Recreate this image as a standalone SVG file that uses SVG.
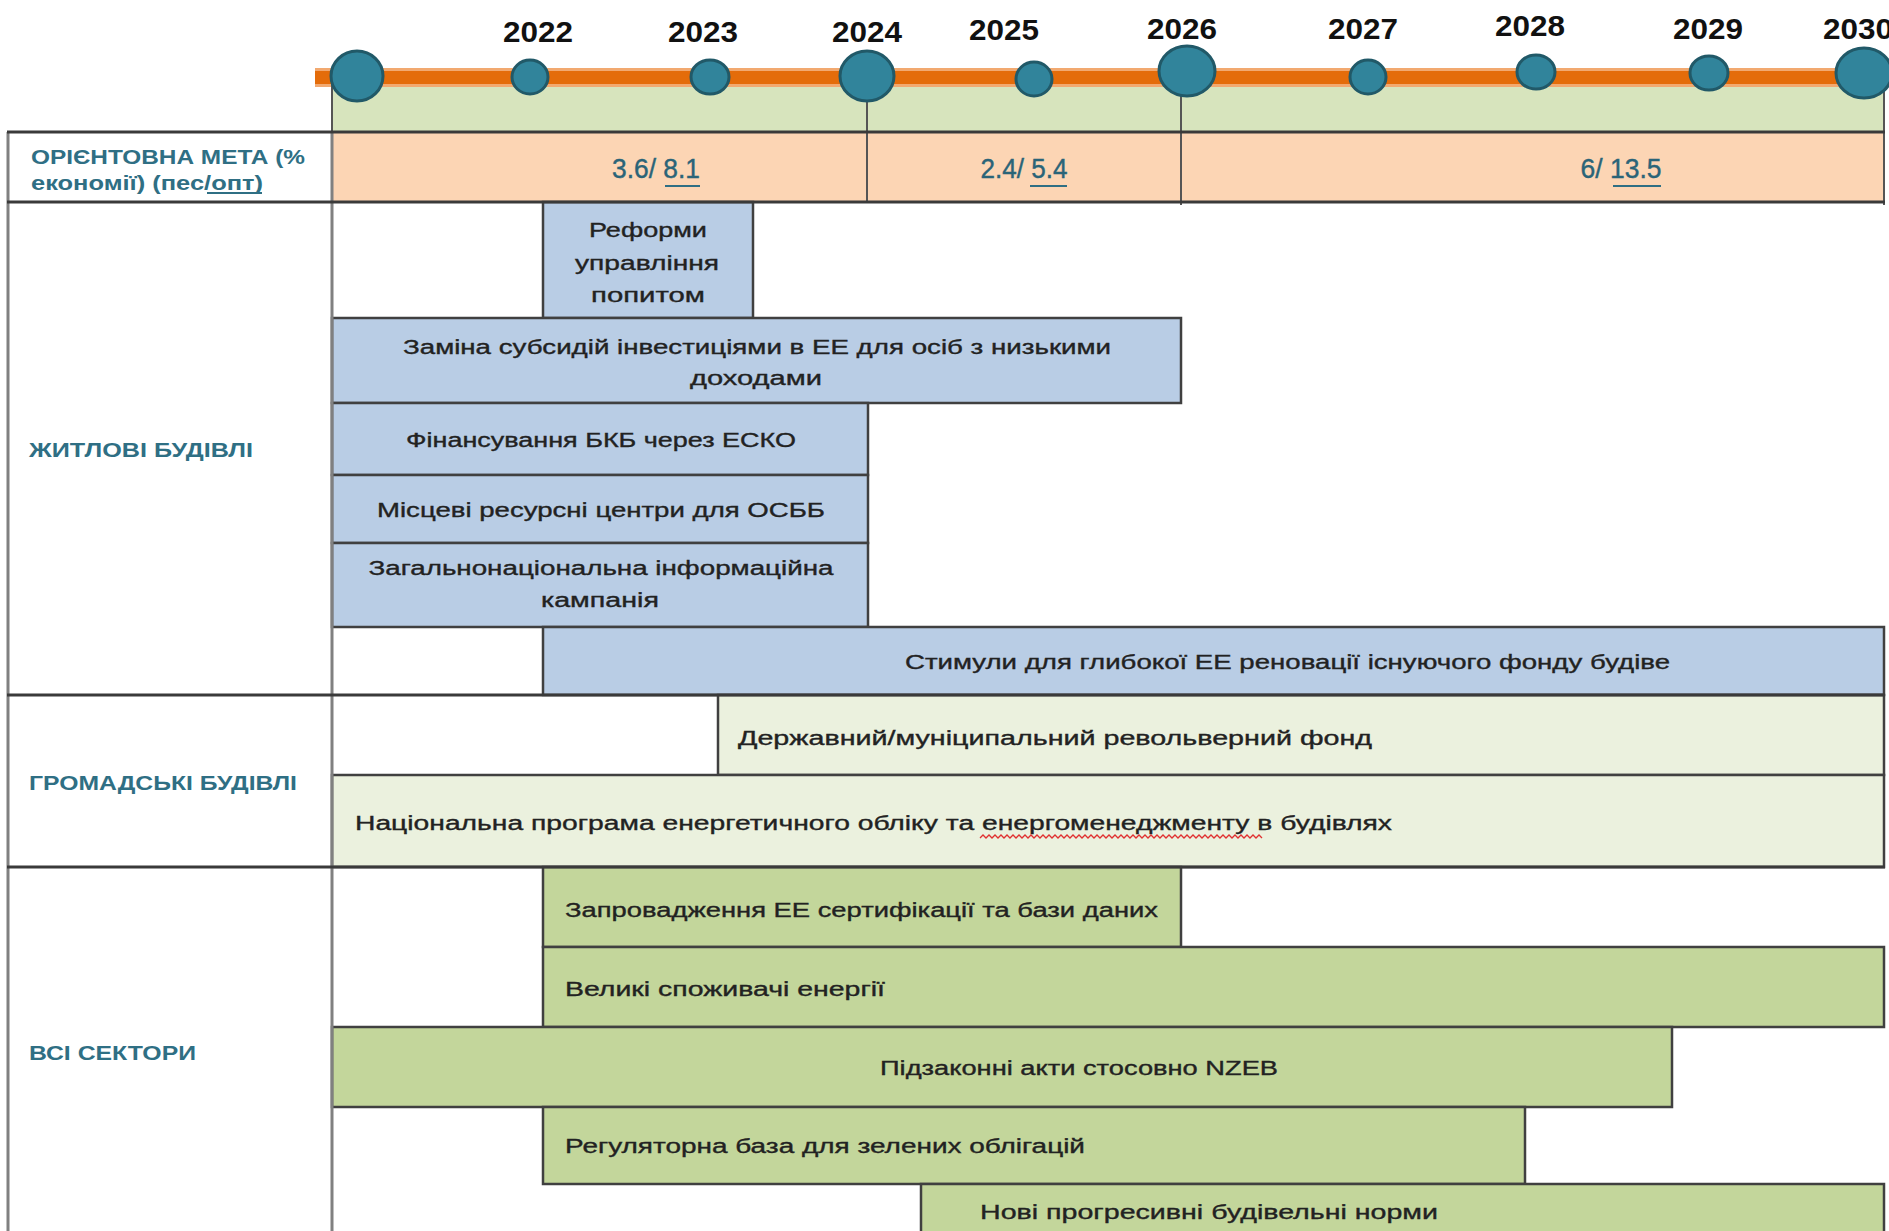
<svg xmlns="http://www.w3.org/2000/svg" width="1889" height="1231" viewBox="0 0 1889 1231">
<style>
.bg{fill:#ffffff}
.blue{fill:#b9cde5;stroke:#404040;stroke-width:2.5}
.lgreen{fill:#ebf1de;stroke:#404040;stroke-width:2.5}
.green{fill:#c3d69b;stroke:#404040;stroke-width:2.5}
.t{font-family:"Liberation Sans",Arial,sans-serif;font-size:20px;fill:#222222;stroke:#222222;stroke-width:0.35;dominant-baseline:central}
.c{text-anchor:middle}
.lab{font-family:"Liberation Sans",Arial,sans-serif;font-size:20px;font-weight:bold;fill:#2f6f84;dominant-baseline:central}
.num{font-family:"Liberation Sans",Arial,sans-serif;font-size:27px;fill:#2a6478;stroke:#2a6478;stroke-width:0.4;dominant-baseline:central;text-anchor:middle}
.yr{font-family:"Liberation Sans",Arial,sans-serif;font-size:30px;font-weight:bold;fill:#111111;dominant-baseline:central;text-anchor:middle}
.dot{fill:#31849b;stroke:#215968;stroke-width:3}
.sep{stroke:#3a3a3a;stroke-width:3}
.grid{stroke:#555555;stroke-width:2}
.ul{stroke:#2f6f84;stroke-width:2}
</style>
<rect class="bg" x="0" y="0" width="1889" height="1231"/>

<g id="header">
  <rect x="332" y="80" width="1552" height="52" fill="#d7e4bd"/>
  <rect x="315" y="68" width="1574" height="19" fill="#f2a970"/>
  <rect x="315" y="71" width="1574" height="13" fill="#e46c0a"/>
  <rect x="332" y="132" width="1552" height="70" fill="#fcd5b4"/>
</g>

<g id="connectors">
  <line class="grid" x1="332" y1="78" x2="332" y2="132"/>
  <line class="grid" x1="867" y1="78" x2="867" y2="203"/>
  <line class="grid" x1="1181" y1="72" x2="1181" y2="205"/>
  <line class="grid" x1="1884" y1="74" x2="1884" y2="205"/>
</g>

<g id="timeline-points">
  <ellipse class="dot" cx="357" cy="76" rx="26" ry="25"/>
  <ellipse class="dot" cx="530" cy="77" rx="18" ry="17"/>
  <ellipse class="dot" cx="710" cy="77" rx="19" ry="17"/>
  <ellipse class="dot" cx="867" cy="76" rx="27" ry="25"/>
  <ellipse class="dot" cx="1034" cy="79" rx="18" ry="17"/>
  <ellipse class="dot" cx="1187" cy="71" rx="28" ry="25"/>
  <ellipse class="dot" cx="1368" cy="77" rx="18" ry="17"/>
  <ellipse class="dot" cx="1536" cy="72" rx="19" ry="17"/>
  <ellipse class="dot" cx="1709" cy="73" rx="19" ry="17"/>
  <ellipse class="dot" cx="1864" cy="73" rx="28" ry="25"/>
</g>

<g id="years">
  <text class="yr" x="538" y="31" textLength="70" lengthAdjust="spacingAndGlyphs">2022</text>
  <text class="yr" x="703" y="31" textLength="70" lengthAdjust="spacingAndGlyphs">2023</text>
  <text class="yr" x="867" y="31" textLength="70" lengthAdjust="spacingAndGlyphs">2024</text>
  <text class="yr" x="1004" y="29" textLength="70" lengthAdjust="spacingAndGlyphs">2025</text>
  <text class="yr" x="1182" y="28" textLength="70" lengthAdjust="spacingAndGlyphs">2026</text>
  <text class="yr" x="1363" y="28" textLength="70" lengthAdjust="spacingAndGlyphs">2027</text>
  <text class="yr" x="1530" y="25" textLength="70" lengthAdjust="spacingAndGlyphs">2028</text>
  <text class="yr" x="1708" y="28" textLength="70" lengthAdjust="spacingAndGlyphs">2029</text>
  <text class="yr" x="1858" y="28" textLength="70" lengthAdjust="spacingAndGlyphs">2030</text>
</g>

<g id="target-row">
  <text class="lab" x="31" y="157" textLength="274" lengthAdjust="spacingAndGlyphs">ОРІЄНТОВНА МЕТА (%</text>
  <text class="lab" x="31" y="183" textLength="232" lengthAdjust="spacingAndGlyphs">економії) (пес/опт)</text>
  <line class="ul" x1="207" y1="193" x2="262" y2="193"/>
  <text class="num" x="656" y="169" textLength="88" lengthAdjust="spacingAndGlyphs">3.6/ 8.1</text>
  <line class="ul" x1="665" y1="186" x2="700" y2="186"/>
  <text class="num" x="1024" y="169" textLength="87" lengthAdjust="spacingAndGlyphs">2.4/ 5.4</text>
  <line class="ul" x1="1030" y1="186" x2="1067" y2="186"/>
  <text class="num" x="1621" y="169" textLength="81" lengthAdjust="spacingAndGlyphs">6/ 13.5</text>
  <line class="ul" x1="1613" y1="186" x2="1661" y2="186"/>
</g>

<g id="section-residential">
  <text class="lab" x="29" y="450" textLength="224" lengthAdjust="spacingAndGlyphs">ЖИТЛОВІ БУДІВЛІ</text>
</g>
<g id="section-public">
  <text class="lab" x="29" y="783" textLength="268" lengthAdjust="spacingAndGlyphs">ГРОМАДСЬКІ БУДІВЛІ</text>
</g>
<g id="section-all">
  <text class="lab" x="29" y="1053" textLength="167" lengthAdjust="spacingAndGlyphs">ВСІ СЕКТОРИ</text>
</g>

<g id="bar-reform">
  <rect class="blue" x="543" y="202" width="210" height="116"/>
  <text class="t c" x="648" y="230" textLength="118" lengthAdjust="spacingAndGlyphs">Реформи</text>
  <text class="t c" x="647" y="263" textLength="144" lengthAdjust="spacingAndGlyphs">управління</text>
  <text class="t c" x="648" y="295" textLength="114" lengthAdjust="spacingAndGlyphs">попитом</text>
</g>
<g id="bar-subsidies">
  <rect class="blue" x="332" y="318" width="849" height="85"/>
  <text class="t c" x="757" y="347" textLength="708" lengthAdjust="spacingAndGlyphs">Заміна субсидій інвестиціями в ЕЕ для осіб з низькими</text>
  <text class="t c" x="756" y="378" textLength="132" lengthAdjust="spacingAndGlyphs">доходами</text>
</g>
<g id="bar-esco">
  <rect class="blue" x="332" y="403" width="536" height="72"/>
  <text class="t c" x="601" y="440" textLength="390" lengthAdjust="spacingAndGlyphs">Фінансування БКБ через ЕСКО</text>
</g>
<g id="bar-centers">
  <rect class="blue" x="332" y="475" width="536" height="68"/>
  <text class="t c" x="601" y="510" textLength="448" lengthAdjust="spacingAndGlyphs">Місцеві ресурсні центри для ОСББ</text>
</g>
<g id="bar-campaign">
  <rect class="blue" x="332" y="543" width="536" height="84"/>
  <text class="t c" x="601" y="568" textLength="465" lengthAdjust="spacingAndGlyphs">Загальнонаціональна інформаційна</text>
  <text class="t c" x="600" y="600" textLength="118" lengthAdjust="spacingAndGlyphs">кампанія</text>
</g>
<g id="bar-renovation">
  <rect class="blue" x="543" y="627" width="1341" height="68"/>
  <text class="t" x="905" y="662" textLength="765" lengthAdjust="spacingAndGlyphs">Стимули для глибокої ЕЕ реновації існуючого фонду будіве</text>
</g>

<g id="bar-fund">
  <rect class="lgreen" x="718" y="695" width="1166" height="80"/>
  <text class="t" x="738" y="738" textLength="634" lengthAdjust="spacingAndGlyphs">Державний/муніципальний револьверний фонд</text>
</g>
<g id="bar-metering">
  <rect class="lgreen" x="332" y="775" width="1552" height="92"/>
  <text class="t" x="355" y="823" textLength="1037" lengthAdjust="spacingAndGlyphs">Національна програма енергетичного обліку та енергоменеджменту в будівлях</text>
  <path d="M980 838 l3 -3 l3 3 l3 -3 l3 3 l3 -3 l3 3 l3 -3 l3 3 l3 -3 l3 3 l3 -3 l3 3 l3 -3 l3 3 l3 -3 l3 3 l3 -3 l3 3 l3 -3 l3 3 l3 -3 l3 3 l3 -3 l3 3 l3 -3 l3 3 l3 -3 l3 3 l3 -3 l3 3 l3 -3 l3 3 l3 -3 l3 3 l3 -3 l3 3 l3 -3 l3 3 l3 -3 l3 3 l3 -3 l3 3 l3 -3 l3 3 l3 -3 l3 3 l3 -3 l3 3 l3 -3 l3 3 l3 -3 l3 3 l3 -3 l3 3 l3 -3 l3 3 l3 -3 l3 3 l3 -3 l3 3 l3 -3 l3 3 l3 -3 l3 3 l3 -3 l3 3 l3 -3 l3 3 l3 -3 l3 3 l3 -3 l3 3 l3 -3 l3 3 l3 -3 l3 3 l3 -3 l3 3 l3 -3 l3 3 l3 -3 l3 3 l3 -3 l3 3 l3 -3 l3 3 l3 -3 l3 3 l3 -3 l3 3 l3 -3 l3 3 l3 -3 l3 3" fill="none" stroke="#e03030" stroke-width="1.3"/>
</g>

<g id="bar-certification">
  <rect class="green" x="543" y="867" width="638" height="80"/>
  <text class="t" x="565" y="910" textLength="593" lengthAdjust="spacingAndGlyphs">Запровадження ЕЕ сертифікації та бази даних</text>
</g>
<g id="bar-consumers">
  <rect class="green" x="543" y="947" width="1341" height="80"/>
  <text class="t" x="565" y="989" textLength="320" lengthAdjust="spacingAndGlyphs">Великі споживачі енергії</text>
</g>
<g id="bar-nzeb">
  <rect class="green" x="332" y="1027" width="1340" height="80"/>
  <text class="t" x="880" y="1068" textLength="398" lengthAdjust="spacingAndGlyphs">Підзаконні акти стосовно NZEB</text>
</g>
<g id="bar-bonds">
  <rect class="green" x="543" y="1107" width="982" height="77"/>
  <text class="t" x="565" y="1146" textLength="520" lengthAdjust="spacingAndGlyphs">Регуляторна база для зелених облігацій</text>
</g>
<g id="bar-codes">
  <rect class="green" x="921" y="1184" width="963" height="60"/>
  <text class="t" x="980" y="1212" textLength="458" lengthAdjust="spacingAndGlyphs">Нові прогресивні будівельні норми</text>
</g>

<g id="frame">
  <line stroke="#808080" stroke-width="3" x1="332" y1="132" x2="332" y2="1231"/>
  <line stroke="#808080" stroke-width="3" x1="8" y1="132" x2="8" y2="1231"/>
  <line class="sep" x1="7" y1="132" x2="1885" y2="132"/>
  <line class="sep" x1="7" y1="202" x2="1885" y2="202"/>
  <line class="sep" x1="7" y1="695" x2="1885" y2="695"/>
  <line class="sep" x1="7" y1="867" x2="1885" y2="867"/>
</g>
</svg>
